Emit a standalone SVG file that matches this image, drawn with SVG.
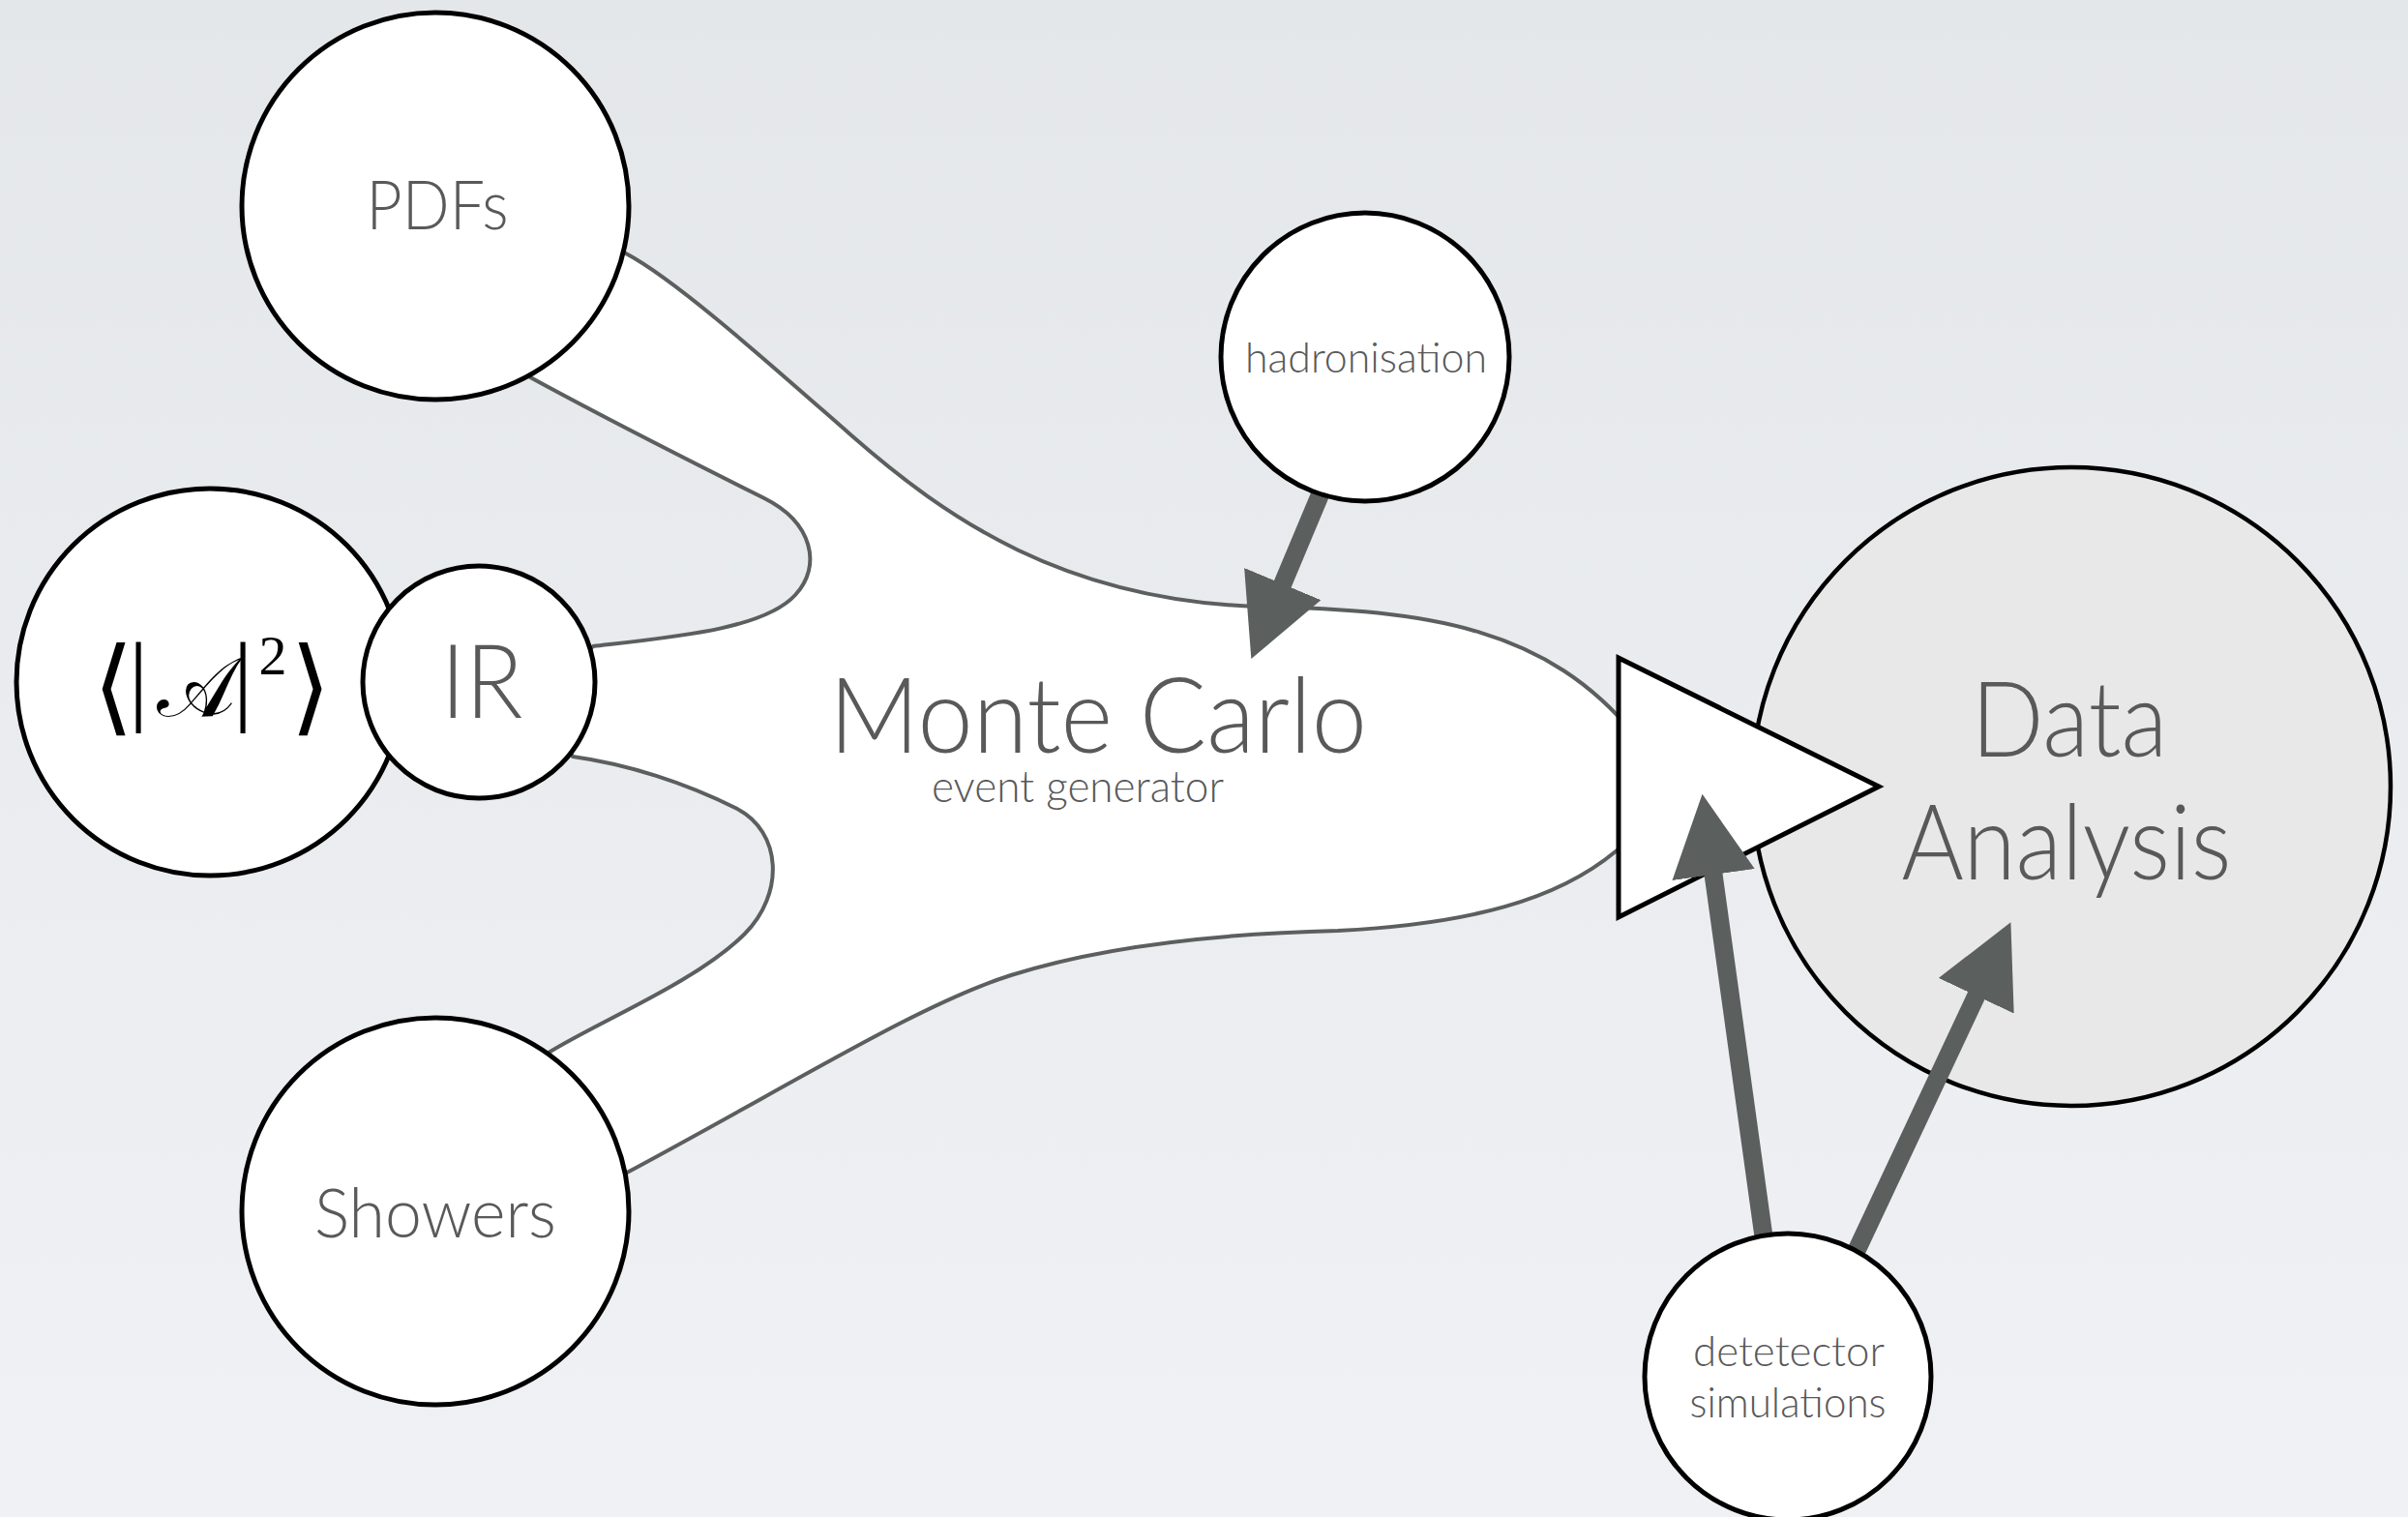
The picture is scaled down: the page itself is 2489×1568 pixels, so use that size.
<svg xmlns="http://www.w3.org/2000/svg" width="2489" height="1568" viewBox="0 0 2489 1568">
  <defs>
    <linearGradient id="bg" x1="0" y1="0" x2="0" y2="1">
      <stop offset="0" stop-color="#e4e7ea"/>
      <stop offset="1" stop-color="#f0f1f4"/>
    </linearGradient>
    <marker id="head" markerUnits="userSpaceOnUse" markerWidth="84" markerHeight="86" viewBox="0 0 82 84" refX="2" refY="42" orient="auto">
      <path d="M0,0 L82,42 L0,84 Z" fill="#5b5f5e"/>
    </marker>
    <style>
      .node { fill: #ffffff; stroke: #000000; stroke-width: 5; }
      .lbl { font-family: Lato, "Open Sans", "Liberation Sans", sans-serif; font-weight: 300; fill: #595959; text-anchor: middle; }
      .blob { fill: #ffffff; stroke: #5b5f5e; stroke-width: 4; stroke-linejoin: round; }
      .arrow { fill: none; stroke: #5b5f5e; stroke-width: 19; stroke-linecap: butt; marker-end: url(#head); }
      .math { fill: #000000; text-anchor: middle; font-family: "Liberation Serif", "DejaVu Serif", serif; }
      .ang { font-family: "DejaVu Sans", serif; font-weight: 200; font-size: 108px; }
    </style>
  </defs>
  <rect width="2489" height="1568" fill="url(#bg)"/>

  <g id="monte-carlo">
    <path class="blob" d="M620,247 L647,262 C700,290 800,380 880,450 C980,537.5 1100,620 1300,627 C1480,630 1600,650 1690,760 C1720,800 1710,850 1670,880 C1610,930 1520,955 1383,962 C1260,965 1140,978 1045,1008 C950,1038 820,1120 648,1212 L560,1170 L567,1088 C620,1055 720,1015 770,965 C810,925 810,860 760,835 C710,810 650,790 592,782 L560,725 L613,668 C700,658 790,650 822,615 C850,585 840,540 790,515 C740,490 620,430 530,380 L560,300 Z"/>
    <text class="lbl"><tspan x="1135" y="778" font-size="108" textLength="556" lengthAdjust="spacingAndGlyphs">Monte Carlo</tspan><tspan x="1114" y="829" font-size="45" textLength="302" lengthAdjust="spacingAndGlyphs">event generator</tspan></text>
  </g>

  <g id="data-analysis">
    <circle cx="2141" cy="813" r="330" fill="#e8e8e8" stroke="#000" stroke-width="4.5"/>
    <text class="lbl" x="2139" y="782" font-size="108" textLength="203" lengthAdjust="spacingAndGlyphs">Data</text>
    <text class="lbl" x="2136" y="909" font-size="108" textLength="341" lengthAdjust="spacingAndGlyphs">Analysis</text>
  </g>

  <g id="output">
    <polygon points="1673,680 1942,813 1673,948" fill="#ffffff" stroke="#000" stroke-width="5" stroke-linejoin="miter"/>
  </g>

  <g id="connectors">
    <line class="arrow" x1="1369.4" y1="499.6" x2="1325" y2="605.5"/>
    <line class="arrow" x1="1826" y1="1300" x2="1770.8" y2="902"/>
    <line class="arrow" x1="1908.5" y1="1315" x2="2043.6" y2="1027.4"/>
  </g>

  <g id="pdfs">
    <circle class="node" cx="450" cy="213" r="200"/>
    <text class="lbl" x="452" y="237" font-size="71" textLength="147" lengthAdjust="spacingAndGlyphs">PDFs</text>
  </g>

  <g id="amplitude">
    <circle class="node" cx="217" cy="705" r="200"/>
    <text class="math"><tspan class="ang" x="117" y="746">⟨</tspan><tspan x="143" y="736" font-size="103">|</tspan><tspan x="202" y="740" font-family="'DejaVu Serif', serif" font-size="86">𝒜</tspan><tspan x="251" y="736" font-size="103">|</tspan><tspan x="282" y="697" font-size="58">2</tspan><tspan class="ang" x="321" y="746">⟩</tspan></text>
  </g>

  <g id="ir">
    <circle class="node" cx="495" cy="705" r="120"/>
    <text class="lbl" x="498" y="742" font-size="107" textLength="85" lengthAdjust="spacingAndGlyphs">IR</text>
  </g>

  <g id="showers">
    <circle class="node" cx="450" cy="1252" r="200"/>
    <text class="lbl" x="450" y="1279" font-size="71" textLength="250" lengthAdjust="spacingAndGlyphs">Showers</text>
  </g>

  <g id="hadronisation">
    <circle class="node" cx="1411" cy="369" r="149"/>
    <text class="lbl" x="1412" y="385" font-size="44" textLength="250" lengthAdjust="spacingAndGlyphs">hadronisation</text>
  </g>

  <g id="detector">
    <circle class="node" cx="1848" cy="1423" r="148"/>
    <text class="lbl" x="1849" y="1412" font-size="44" textLength="198" lengthAdjust="spacingAndGlyphs">detetector</text>
    <text class="lbl" x="1848" y="1465" font-size="44" textLength="203" lengthAdjust="spacingAndGlyphs">simulations</text>
  </g>
</svg>
